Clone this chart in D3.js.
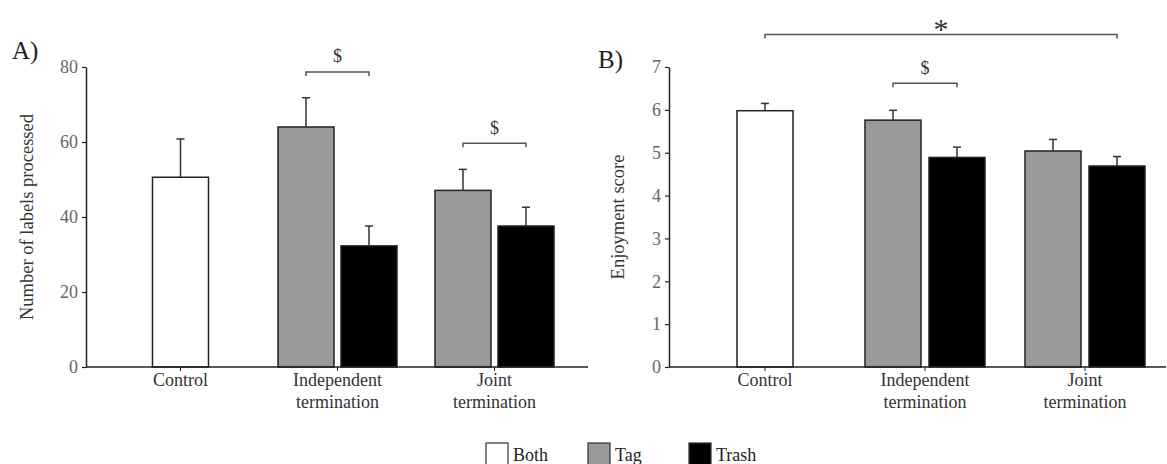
<!DOCTYPE html>
<html>
<head>
<meta charset="utf-8">
<script src="https://cdn.jsdelivr.net/npm/d3@7"></script>
<style>
  body { margin: 0; background: #fff; }
  svg, svg text { font-family: "Liberation Serif", "Times New Roman", serif; }
</style>
</head>
<body>
<svg id="svg" width="1167" height="464"></svg>
<script>
// data
var categories = ["Control", "Independent termination", "Joint termination"];
var groups = ["Tag", "Trash"];

// A) number of labels processed
var labelsBoth = 50.6, labelsBothErr = 10.2;
var labelsTag = [64.0, 47.1], labelsTagErr = [7.8, 5.6];
var labelsTrash = [32.3, 37.6], labelsTrashErr = [5.3, 5.0];
var labelsTicks = [0, 20, 40, 60, 80];

// B) enjoyment score
var enjoyBoth = 5.98, enjoyBothErr = 0.17;
var enjoyTag = [5.76, 5.04], enjoyTagErr = [0.23, 0.27];
var enjoyTrash = [4.89, 4.69], enjoyTrashErr = [0.24, 0.22];
var enjoyTicks = [0, 1, 2, 3, 4, 5, 6, 7];

var fills = { "Both": "#ffffff", "Tag": "#9a9a9a", "Trash": "#000000" };
var legendNames = ["Both", "Tag", "Trash"];

var svg = d3.select("#svg");

// turn one panel's values into rows
function makeRows(both, bothErr, tag, tagErr, trash, trashErr) {
    var rows = [{ cat: categories[0], grp: "Both", v: both, e: bothErr }];
    for (var i = 0; i < 2; i++) {
        rows.push({ cat: categories[i + 1], grp: "Tag", v: tag[i], e: tagErr[i] });
        rows.push({ cat: categories[i + 1], grp: "Trash", v: trash[i], e: trashErr[i] });
    }
    return rows;
}

function panel(opt) {
    var g = svg.append("g");
    var y = d3.scaleLinear().domain([0, opt.max]).range([367, 67]);
    var x = d3.scaleBand().domain(categories).range(opt.xr);
    var inner = d3.scaleBand().domain(groups).range([-opt.half, opt.half]).paddingInner(opt.gap);

    function left(d) {
        if (d.grp == "Both") return x(d.cat) + x.bandwidth() / 2 - inner.bandwidth() / 2;
        return x(d.cat) + x.bandwidth() / 2 + inner(d.grp);
    }
    function mid(d) { return left(d) + inner.bandwidth() / 2; }

    // bars
    g.selectAll("rect.bar")
        .data(opt.rows)
        .enter()
        .append("rect")
        .attr("class", "bar")
        .attr("x", left)
        .attr("y", function(d) { return y(d.v); })
        .attr("width", inner.bandwidth())
        .attr("height", function(d) { return y(0) - y(d.v); })
        .attr("fill", function(d) { return fills[d.grp]; })
        .attr("stroke", "#222")
        .attr("stroke-width", 1.5);

    // error bars (upper only)
    var eb = g.selectAll("g.err").data(opt.rows).enter().append("g")
        .attr("stroke", "#333").attr("stroke-width", 1.5);
    eb.append("line")
        .attr("x1", mid).attr("x2", mid)
        .attr("y1", function(d) { return y(d.v); })
        .attr("y2", function(d) { return y(d.v + d.e); });
    eb.append("line")
        .attr("x1", function(d) { return mid(d) - 4; })
        .attr("x2", function(d) { return mid(d) + 4; })
        .attr("y1", function(d) { return y(d.v + d.e); })
        .attr("y2", function(d) { return y(d.v + d.e); });

    // y axis
    var ya = g.append("g")
        .attr("transform", "translate(" + opt.x0 + ",0)")
        .call(d3.axisLeft(y).tickValues(opt.ticks).tickFormat(d3.format("d"))
            .tickSize(4).tickSizeOuter(0).tickPadding(4))
        .attr("font-family", null)
        .attr("font-size", 18);
    ya.select(".domain").attr("stroke", "#222").attr("stroke-width", 1.5);
    ya.selectAll(".tick line").attr("stroke", "#222").attr("stroke-width", 1.2);
    ya.selectAll(".tick text").attr("fill", "#666");

    // x axis: baseline plus category ticks
    g.append("line")
        .attr("x1", opt.x0).attr("x2", opt.xEnd)
        .attr("y1", y(0)).attr("y2", y(0))
        .attr("stroke", "#222").attr("stroke-width", 1.5);
    var xa = g.append("g")
        .attr("transform", "translate(0," + y(0) + ")")
        .call(d3.axisBottom(x).tickSize(4).tickSizeOuter(0))
        .attr("font-family", null)
        .attr("font-size", 18);
    xa.select(".domain").remove();
    xa.selectAll(".tick line").attr("stroke", "#222").attr("stroke-width", 1);
    xa.selectAll(".tick text").each(function(d) {
        var t = d3.select(this).text("").attr("y", 0).attr("dy", null).attr("fill", "#333");
        d.split(" ").forEach(function(w, i) {
            t.append("tspan").attr("x", 0).attr("y", 19 + i * 22).text(w);
        });
    });

    // y title
    g.append("text")
        .attr("transform", "translate(" + opt.titleX + "," + (y(0) + y(opt.max)) / 2 + ") rotate(-90)")
        .attr("text-anchor", "middle")
        .attr("fill", "#333")
        .style("font-size", "18.5px")
        .text(opt.title);

    // panel letter
    g.append("text")
        .attr("x", opt.letterX).attr("y", opt.letterY)
        .attr("fill", "#222")
        .style("font-size", "25px")
        .text(opt.letter);

    // significance brackets
    opt.brackets.forEach(function(b) {
        var a = opt.rows.filter(function(d) { return d.cat == b.from[0] && d.grp == b.from[1]; })[0];
        var c = opt.rows.filter(function(d) { return d.cat == b.to[0] && d.grp == b.to[1]; })[0];
        var x1 = mid(a), x2 = mid(c), yy = y(b.at);
        g.append("path")
            .attr("d", "M" + x1 + "," + (yy + 4) + "V" + yy + "H" + x2 + "V" + (yy + 4))
            .attr("fill", "none")
            .attr("stroke", "#555")
            .attr("stroke-width", 1.5);
        g.append("text")
            .attr("x", (x1 + x2) / 2)
            .attr("y", yy + b.dy)
            .attr("text-anchor", "middle")
            .attr("fill", "#333")
            .style("font-size", b.size + "px")
            .text(b.sym);
    });
}

panel({
    rows: makeRows(labelsBoth, labelsBothErr, labelsTag, labelsTagErr, labelsTrash, labelsTrashErr),
    max: 80, ticks: labelsTicks,
    xr: [102, 573], x0: 86, xEnd: 588,
    half: 59.5, gap: 0.111,
    title: "Number of labels processed", titleX: 33,
    letter: "A)", letterX: 12, letterY: 59,
    brackets: [
        { from: [categories[1], "Tag"], to: [categories[1], "Trash"], at: 78.7, sym: "$", size: 18, dy: -9.5 },
        { from: [categories[2], "Tag"], to: [categories[2], "Trash"], at: 59.7, sym: "$", size: 18, dy: -9.5 }
    ]
});

panel({
    rows: makeRows(enjoyBoth, enjoyBothErr, enjoyTag, enjoyTagErr, enjoyTrash, enjoyTrashErr),
    max: 7, ticks: enjoyTicks,
    xr: [685, 1165], x0: 669, xEnd: 1166,
    half: 60, gap: 0.125,
    title: "Enjoyment score", titleX: 624,
    letter: "B)", letterX: 598, letterY: 68,
    brackets: [
        { from: [categories[1], "Tag"], to: [categories[1], "Trash"], at: 6.62, sym: "$", size: 18, dy: -9.5 },
        { from: [categories[0], "Both"], to: [categories[2], "Trash"], at: 7.76, sym: "*", size: 30, dy: 5 }
    ]
});

// legend
var leg = svg.append("g").selectAll("g")
    .data(legendNames)
    .enter()
    .append("g")
    .attr("transform", function(d, i) { return "translate(" + [486, 588, 689][i] + ",443)"; });
leg.append("rect")
    .attr("width", 22).attr("height", 22)
    .attr("fill", function(d) { return fills[d]; })
    .attr("stroke", "#333").attr("stroke-width", 1.2);
leg.append("text")
    .attr("x", 27).attr("y", 18)
    .attr("fill", "#222")
    .style("font-size", "18px")
    .text(function(d) { return d; });
</script>
</body>
</html>
